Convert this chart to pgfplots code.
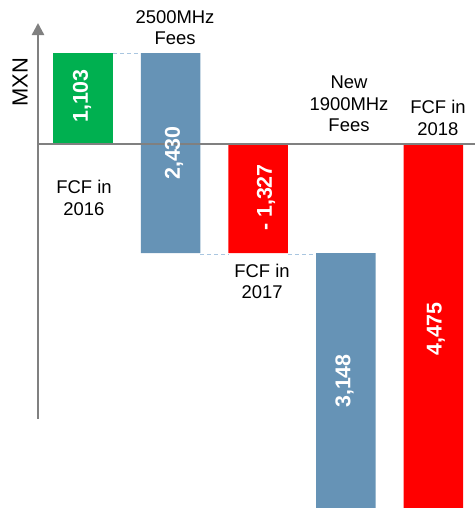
\documentclass[border=0pt]{standalone}
\usepackage{pgfplots}
\pgfplotsset{compat=1.18}
\usepackage{fontspec}
\setmainfont{Liberation Sans}
\usetikzlibrary{arrows.meta}

\definecolor{fcfgreen}{HTML}{00B050}
\definecolor{feeblue}{HTML}{6693B6}
\definecolor{fcfred}{HTML}{FF0000}
\definecolor{axisgray}{HTML}{808080}
\definecolor{linkblue}{HTML}{A9C6E0}

\begin{document}
\begin{tikzpicture}[
    cat/.style={font=\fontsize{18.5}{21.5}\selectfont, align=center, inner sep=0pt},
    val/.style={font=\fontsize{21.5}{24}\selectfont\bfseries, text=white, rotate=90, inner sep=0pt},
]
\begin{axis}[
    scale only axis, width=475bp, height=508bp,
    hide axis,
    xmin=-0.9475, xmax=4.4749,
    ymin=-4423, ymax=1750,
    ybar stacked, stack negative=on previous, bar width=59.5bp,
    clip bounding box=upper bound,
]
    \coordinate (bl) at (rel axis cs:0,0);
    \coordinate (tr) at (rel axis cs:1,1);

    % zero line behind the bars
    \draw[axisgray, line width=2.2bp] (axis cs:-0.5137,0) -- (axis cs:4.4749,0);

    % invisible base of the floating bars
    \addplot[draw=none, fill=none] coordinates {(0,0) (1,1103) (2,0) (3,-1327) (4,0)};
    % FCF 2016
    \addplot[draw=none, fill=fcfgreen] coordinates {(0,1103) (1,0) (2,0) (3,0) (4,0)};
    % spectrum fees
    \addplot[draw=none, fill=feeblue] coordinates {(0,0) (1,-2430) (2,0) (3,-3148) (4,0)};
    % FCF 2017 / 2018
    \addplot[draw=none, fill=fcfred] coordinates {(0,0) (1,0) (2,-1327) (3,0) (4,-4475)};

    % connectors
    \draw[linkblue, line width=1.2bp, dash pattern=on 4bp off 3bp]
        (axis cs:0.34,1103) -- (axis cs:0.66,1103)
        (axis cs:1.34,-1340) -- (axis cs:1.66,-1340)
        (axis cs:2.34,-1340) -- (axis cs:2.66,-1340);

    % y axis with arrow
    \draw[axisgray, line width=2.4bp, -{Triangle[length=12bp, width=12bp]}]
        (rel axis cs:0.08,0.1752) -- (rel axis cs:0.08,0.9547);
    \node[font=\fontsize{22}{24}\selectfont, rotate=90, inner sep=0pt] at (rel axis cs:0.0421,0.8386) {MXN};

    % category labels
    \node[cat] at (rel axis cs:0.1768,0.6102) {FCF in\\2016};
    \node[cat] at (rel axis cs:0.3684,0.9459) {2500MHz\\Fees};
    \node[cat] at (rel axis cs:0.5516,0.4459) {FCF in\\2017};
    \node[cat] at (rel axis cs:0.7347,0.7953) {New\\1900MHz\\Fees};
    \node[cat] at (rel axis cs:0.9221,0.7682) {FCF in\\2018};

    % where the values go
    \coordinate (v1) at (rel axis cs:0.1726,0.8110);
    \coordinate (v2) at (rel axis cs:0.3663,0.6988);
    \coordinate (v3) at (rel axis cs:0.5600,0.6112);
    \coordinate (v4) at (rel axis cs:0.7253,0.2500);
    \coordinate (v5) at (rel axis cs:0.9179,0.3524);
\end{axis}
% values in the bars, on top
\node[val] at (v1) {1,103};
\node[val] at (v2) {2,430};
\node[val] at (v3) {- 1,327};
\node[val] at (v4) {3,148};
\node[val] at (v5) {4,475};
\pgfresetboundingbox
\path[use as bounding box] (bl) rectangle (tr);
\end{tikzpicture}
\end{document}
